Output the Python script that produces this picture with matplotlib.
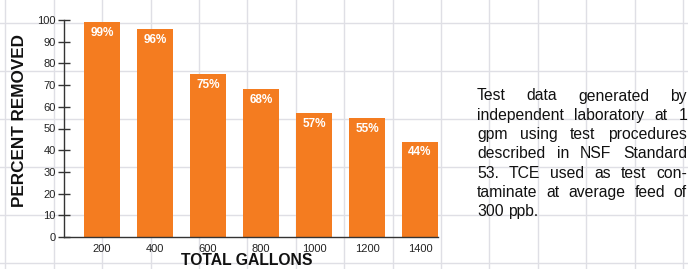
import matplotlib
matplotlib.use("Agg")
import matplotlib.pyplot as plt
from matplotlib.lines import Line2D

categories = ["200", "400", "600", "800", "1000", "1200", "1400"]
values = [99, 96, 75, 68, 57, 55, 44]
bar_labels = ["99%", "96%", "75%", "68%", "57%", "55%", "44%"]
yticks = [0, 10, 20, 30, 40, 50, 60, 70, 80, 90, 100]
note_lines = [
    "Test data generated by",
    "independent laboratory at 1",
    "gpm using test procedures",
    "described in NSF Standard",
    "53. TCE used as test con-",
    "taminate at average feed of",
    "300 ppb.",
]

plt.rcParams['font.family'] = ['Liberation Sans', 'DejaVu Sans']
W, H = 688, 269
fig = plt.figure(figsize=(W / 100, H / 100), dpi=100)
fig.patch.set_facecolor('white')

# background graph-paper grid
gcol = '#dfdfe5'
for k in range(15):
    x = 5.4 + 48.4 * k
    fig.add_artist(Line2D([x / W, x / W], [0, 1], color=gcol, lw=1, zorder=0))
for k in range(6):
    y = 23 + 48 * k
    fig.add_artist(Line2D([0, 1], [1 - y / H, 1 - y / H], color=gcol, lw=1, zorder=0))

ax = fig.add_axes([64 / W, 32 / H, (438 - 64) / W, (237 - 20) / H])
ax.set_facecolor('none')
xs = list(range(len(categories)))
bars = ax.bar(xs, values, width=0.68, color='#F47C20', zorder=2)
for b, lab in zip(bars, bar_labels):
    ax.text(b.get_x() + b.get_width() / 2, b.get_height() - 5, lab,
            ha='center', va='center', color='white', fontsize=8.5,
            fontweight='bold', zorder=3)

ax.set_xlim(-0.717, 6.34)
ax.set_ylim(0, 100)
ax.set_xticks(xs)
ax.set_xticklabels(categories)
ax.set_yticks(yticks)
for s in ['top', 'right']:
    ax.spines[s].set_visible(False)
for s in ['left', 'bottom']:
    ax.spines[s].set_color('#333333')
    ax.spines[s].set_linewidth(1)
    ax.spines[s].set_zorder(4)
ax.tick_params(axis='x', length=0, pad=5, labelsize=8, labelcolor='#222222')
ax.tick_params(axis='y', direction='inout', length=8, width=1, color='#333333',
               pad=2, labelsize=8, labelcolor='#222222')

ax.set_ylabel("PERCENT REMOVED", fontsize=12.3, fontweight='bold', color='#111111',
              va='center')
ax.yaxis.set_label_coords(-0.118, 0.535)
ax.set_xlabel("TOTAL GALLONS", fontsize=11.3, fontweight='bold', color='#111111', va='center')
ax.xaxis.set_label_coords(0.488, -0.11)

# justified note text
renderer = fig.canvas.get_renderer()
x0, x1 = 477, 687
y0, dy = 100.5, 19.3
for i, line in enumerate(note_lines):
    words = line.split()
    yf = 1 - (y0 + i * dy) / H
    ts = [fig.text(0, yf, w, fontsize=11.3, color='#111111', va='baseline', ha='left')
          for w in words]
    widths = [t.get_window_extent(renderer).width for t in ts]
    if i == len(note_lines) - 1 or len(words) == 1:
        gap = renderer.points_to_pixels(11.3) * 0.28
    else:
        gap = (x1 - x0 - sum(widths)) / (len(words) - 1)
    x = x0
    for t, w in zip(ts, widths):
        t.set_x(x / W)
        x += w + gap

fig.savefig("out.png", dpi=100, facecolor='white')
